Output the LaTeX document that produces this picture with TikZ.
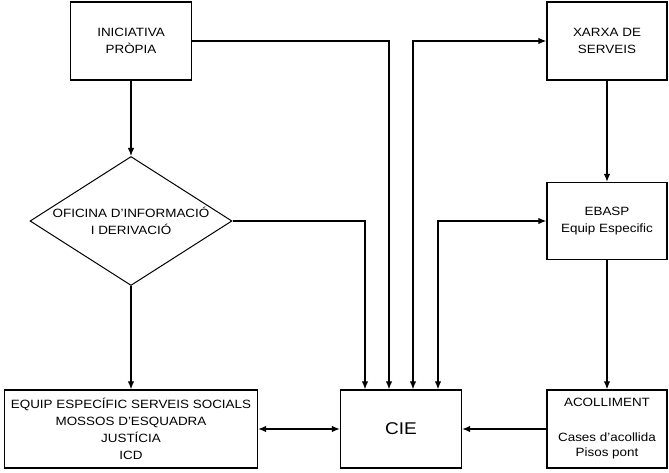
\documentclass[tikz,border=0pt]{standalone}
\usepackage{fontspec}
\setmainfont[FakeStretch=1.12]{Liberation Sans}
\usetikzlibrary{positioning,shapes.geometric,arrows.meta}
\tikzset{box node/.style={rectangle,draw,line width=1.3pt,align=center,minimum width=121pt,minimum height=78pt,inner sep=0pt,font=\fontsize{12}{17}\selectfont} }
\tikzset{decision node/.style={diamond,draw,line width=1pt,aspect=1.57,align=center,minimum width=202pt,minimum height=129pt,inner sep=-6pt,font=\fontsize{12}{17}\selectfont} }
\tikzset{flow/.style={line width=1.2pt,-{Latex[length=8pt,width=6.5pt]}} }
\tikzset{both flow/.style={line width=1.2pt,{Latex[length=8pt,width=6.5pt]}-{Latex[length=8pt,width=6.5pt]}} }

\begin{document}
\begin{tikzpicture}[x=1pt,y=1pt]
\useasboundingbox (0,0) rectangle (669,473);
\begin{scope}[on grid]

  \node[box node] (inic) at (131,432) {INICIATIVA\\PRÒPIA};
  \node[decision node] (ofi) [below = 180pt of inic] {OFICINA D'INFORMACIÓ\\I DERIVACIÓ};
  \node[box node,minimum width=253pt] (equip) [below = 208pt of ofi] {EQUIP ESPECÍFIC SERVEIS SOCIALS\\MOSSOS D'ESQUADRA\\JUSTÍCIA\\ICD};
  \node[box node,font=\fontsize{17}{20}\selectfont] (cie) [right = 270pt of equip] {CIE};
  \node[box node,minimum width=120pt] (acoll) [right = 206pt of cie] {ACOLLIMENT\\[18pt]Cases d'acollida\\[-2pt]Pisos pont};
  \node[box node,minimum width=120pt,minimum height=77pt] (ebasp) [above = 208pt of acoll] {EBASP\\Equip Especific};
  \node[box node,minimum width=120pt] (xarxa) [above = 180pt of ebasp] {XARXA DE\\SERVEIS};

  \coordinate (cie1) at ([xshift=-36pt]cie.north);
  \coordinate (cie2) at ([xshift=-12pt]cie.north);
  \coordinate (cie3) at ([xshift=12pt]cie.north);
  \coordinate (cie4) at ([xshift=37pt]cie.north);

    \path[flow]
    (inic) edge (ofi)
    (ofi) edge (equip)
    (equip) edge [both flow] (cie)
    (acoll) edge (cie)
    (xarxa) edge (ebasp)
    (ebasp) edge (acoll)
    ;
    \draw[flow] (ofi.east) -| (cie1);
    \draw[flow] (inic.east) -| (cie2);
    \draw[both flow] (cie3) |- (xarxa.west);
    \draw[both flow] (cie4) |- (ebasp.west);
    \end{scope}
\end{tikzpicture}
\end{document}
